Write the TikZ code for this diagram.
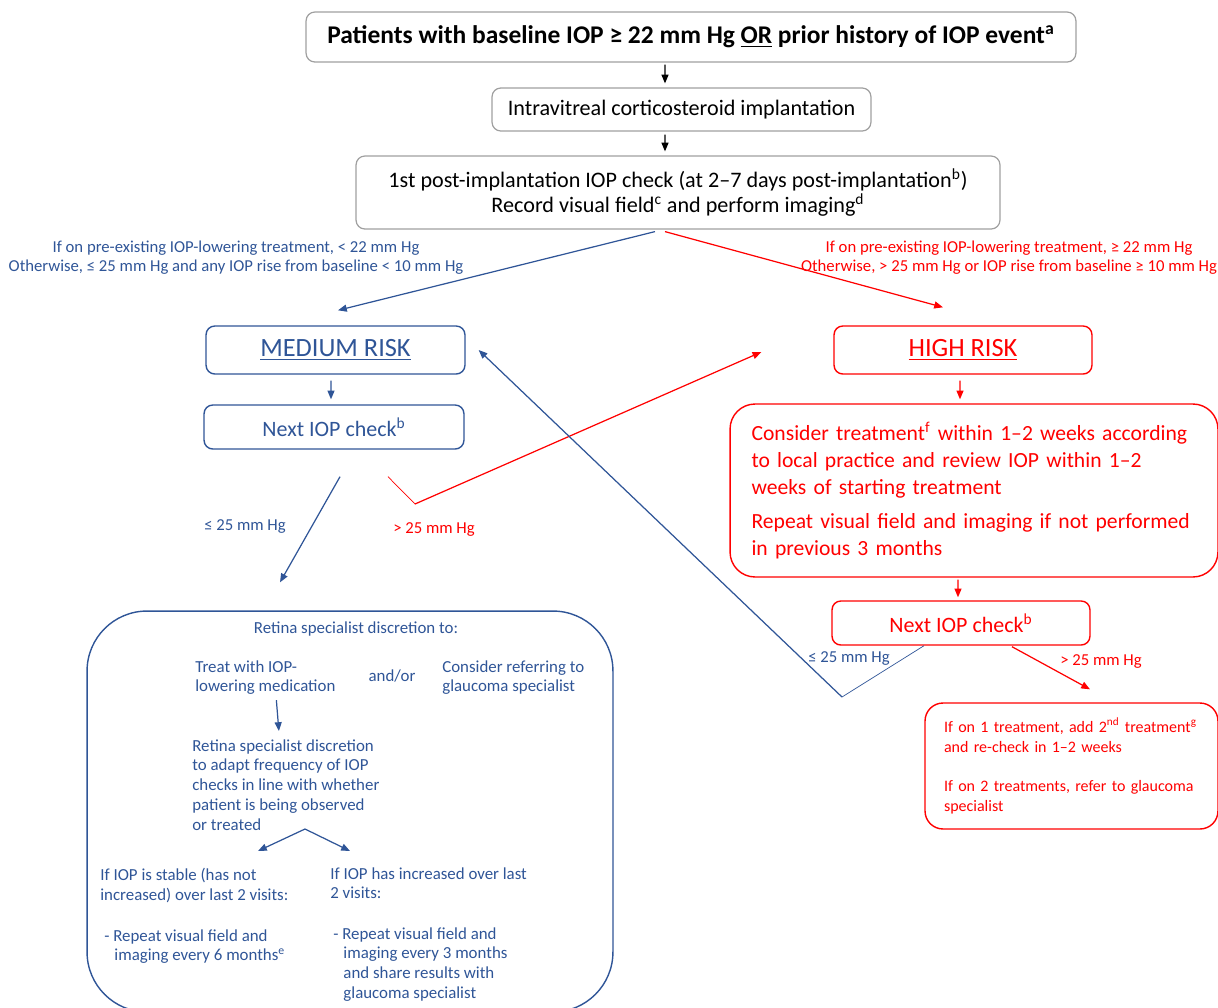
\documentclass[tikz,border=0pt]{standalone}
\usepackage{fontspec}
\setmainfont{Carlito}
\usetikzlibrary{arrows.meta}

\definecolor{iopblue}{RGB}{47,85,151}
\definecolor{iopred}{RGB}{255,0,0}
\definecolor{boxgray}{RGB}{160,160,160}

\tikzset{
  gbox/.style={draw=boxgray,line width=0.7pt,rounded corners=5pt,align=center},
  mbox/.style={draw=iopblue,text=iopblue,line width=0.8pt,rounded corners=5pt,align=center},
  hbox/.style={draw=iopred,text=iopred,line width=0.8pt,rounded corners=5pt,align=center},
  karr/.style={-{Triangle[length=5pt,width=4pt]},line width=0.7pt},
  barr/.style={karr,draw=iopblue},
  rarr/.style={karr,draw=iopred},
  btxt/.style={text=iopblue,inner sep=0pt,align=left,font=\fontsize{9.6}{11.3}\selectfont},
  lbl/.style={inner sep=0pt,align=center,font=\fontsize{9.5}{10.8}\selectfont}
}

\begin{document}
\begin{tikzpicture}[x=0.02cm,y=-0.02cm]
\useasboundingbox (0,0) rectangle (1218,1008);

% top chain
\node[gbox,minimum width=15.4cm,minimum height=1cm,font=\fontsize{14.5}{16}\bfseries\selectfont] (patients) at (691,37)
  {Patients with baseline IOP ≥ 22 mm Hg \underline{OR} prior history of IOP event\textsuperscript{a}};
\node[gbox,minimum width=7.58cm,minimum height=0.86cm,font=\fontsize{12.6}{14}\selectfont] (implant) at (681.5,109.5)
  {Intravitreal corticosteroid implantation};
\node[gbox,minimum width=12.88cm,minimum height=1.46cm,font=\fontsize{12.6}{14.2}\selectfont] (first) at (678,192.5)
  {1st post-implantation IOP check (at 2–7 days post-implantation\textsuperscript{b})\\
   Record visual field\textsuperscript{c} and perform imaging\textsuperscript{d}};

\draw[karr] ([xshift=-0.52cm,yshift=-0.04cm]patients.south) -- ([xshift=-0.33cm,yshift=0.08cm]implant.north);
\draw[karr] ([xshift=-0.33cm,yshift=-0.06cm]implant.south) -- ([xshift=-0.26cm,yshift=0.08cm]first.north);

% split into the two risk groups
\node[lbl,text=iopblue] (lowlbl) at (236,257.5)
  {If on pre-existing IOP-lowering treatment, < 22 mm Hg\\
   Otherwise, ≤ 25 mm Hg and any IOP rise from baseline < 10 mm Hg};
\node[lbl,text=iopred] (highlbl) at (1009,257.5)
  {If on pre-existing IOP-lowering treatment, ≥ 22 mm Hg\\
   Otherwise, > 25 mm Hg or IOP rise from baseline ≥ 10 mm Hg};

\node[mbox,minimum width=5.18cm,minimum height=0.96cm,font=\fontsize{15}{16}\selectfont] (medium) at (335.5,350)
  {\underline{MEDIUM RISK}};
\node[hbox,minimum width=5.16cm,minimum height=0.96cm,font=\fontsize{15}{16}\selectfont] (high) at (963,350)
  {\underline{HIGH RISK}};

\draw[barr] ([xshift=-0.46cm,yshift=-0.04cm]first.south) -- ([xshift=0.05cm,yshift=0.3cm]medium.north);
\draw[rarr] ([xshift=-0.26cm,yshift=-0.04cm]first.south) -- ([xshift=-0.4cm,yshift=0.36cm]high.north);

% medium risk branch
\node[mbox,minimum width=5.2cm,minimum height=0.88cm,font=\fontsize{12.5}{14}\selectfont] (nextmed) at (334,427)
  {Next IOP check\textsuperscript{b}};
\draw[barr] ([xshift=-0.09cm,yshift=-0.12cm]medium.south) -- ([xshift=-0.06cm,yshift=0.1cm]nextmed.north);

\node[mbox,rounded corners=1.2cm,minimum width=10.52cm,minimum height=8.02cm] (retina) at (350,811.5) {};

\draw[barr] ([xshift=0.12cm,yshift=-0.54cm]nextmed.south) -- ([xshift=-1.4cm,yshift=0.56cm]retina.north);
\node[lbl,text=iopblue] (lelbl) at (245,527) {≤ 25 mm Hg};

\coordinate (bend) at (415,504);
\draw[iopred,line width=0.4pt] ([xshift=1.08cm,yshift=-0.54cm]nextmed.south) -- (bend);
\draw[rarr] (bend) -- ([xshift=-1.44cm,yshift=-0.04cm]high.west);
\node[lbl,text=iopred] (gtlbl) at (434,530) {> 25 mm Hg};

% inside the retina specialist box
\node[btxt] (discr) at (356,629) {Retina specialist discretion to:};
\node[btxt,anchor=north west] (treat) at (195,660) {Treat with IOP-\\lowering medication};
\node[btxt] (andor) at (392,676) {and/or};
\node[btxt,anchor=north west] (refer) at (442,660) {Consider referring to\\glaucoma specialist};
\node[btxt,anchor=north west] (adapt) at (192,739)
  {Retina specialist discretion\\to adapt frequency of IOP\\checks in line with whether\\patient is being observed\\or treated};
\draw[barr] ([xshift=0.22cm,yshift=-0.1cm]treat.south) -- ([xshift=-0.14cm,yshift=0.16cm]adapt.north);

\coordinate (fork) at (305,829);
\coordinate (forkl) at (258,851);
\coordinate (forkr) at (350,851);
\draw[barr] (fork) -- (forkl);
\draw[barr] (fork) -- (forkr);

\node[btxt,anchor=north west] (stable) at (100,868) {If IOP is stable (has not\\increased) over last 2 visits:};
\node[btxt,anchor=north west] (incr) at (330,867) {If IOP has increased over last\\2 visits:};
\node[btxt,anchor=north west] (six) at (104,929)
  {- Repeat visual field and\\\hspace{0.6em}imaging every 6 months\textsuperscript{e}};
\node[btxt,anchor=north west] (three) at (333,927)
  {- Repeat visual field and\\\hspace{0.6em}imaging every 3 months\\\hspace{0.6em}and share results with\\\hspace{0.6em}glaucoma specialist};

% high risk branch
\node[hbox,rounded corners=0.5cm,minimum width=9.76cm,minimum height=3.46cm,align=left,
  text width=8.9cm,inner xsep=0.43cm,font=\fontsize{12.3}{15.3}\selectfont] (consider) at (974,490.5)
  {Consider treatment\textsuperscript{f} within 1–2 weeks according\\
   to local practice and review IOP within 1–2\\
   weeks of starting treatment\\[4pt]
   Repeat visual field and imaging if not performed\\
   in previous 3 months};
\draw[rarr] ([xshift=-0.06cm,yshift=-0.12cm]high.south) -- ([xshift=-0.28cm,yshift=0.08cm]consider.north);

\node[hbox,minimum width=5.16cm,minimum height=0.88cm,font=\fontsize{12.5}{14}\selectfont] (nexthigh) at (961,623)
  {Next IOP check\textsuperscript{b}};
\draw[rarr] ([xshift=-0.32cm,yshift=-0.04cm]consider.south) -- ([xshift=-0.06cm,yshift=0.06cm]nexthigh.north);

\node[hbox,rounded corners=0.36cm,minimum width=5.86cm,minimum height=2.52cm,align=left,
  text width=5.1cm,inner xsep=0.38cm,font=\fontsize{9.1}{11.3}\selectfont] (treatr) at (1071.5,766)
  {\mbox{If on 1 treatment, add 2\textsuperscript{nd} treatment\textsuperscript{g}}\\
   and re-check in 1–2 weeks\\[11pt]
   If on 2 treatments, refer to glaucoma\\
   specialist};
\draw[rarr] ([xshift=1.02cm,yshift=-0.02cm]nexthigh.south) -- ([xshift=0.37cm,yshift=0.26cm]treatr.north);
\node[lbl,text=iopred] (gtlbl2) at (1101,662) {> 25 mm Hg};

\coordinate (vee) at (842,697);
\draw[iopblue,line width=0.4pt] ([xshift=-0.74cm]nexthigh.south) -- (vee);
\draw[barr] (vee) -- ([xshift=0.26cm]medium.east);
\node[lbl,text=iopblue] (lelbl2) at (849,659) {≤ 25 mm Hg};

\end{tikzpicture}
\end{document}
